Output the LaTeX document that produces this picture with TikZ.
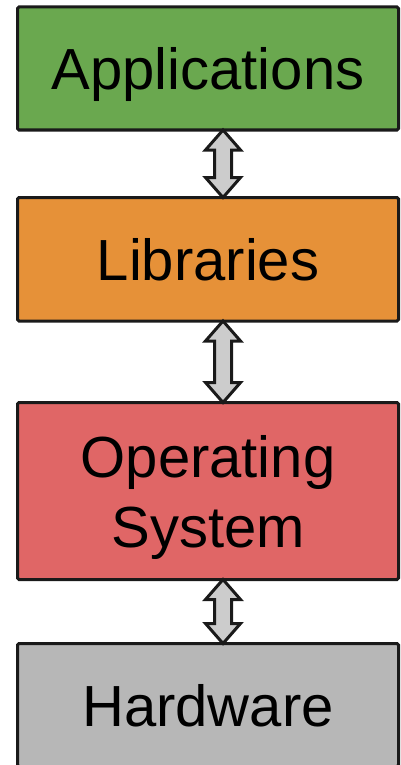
\documentclass[tikz,border=0pt]{standalone}
\usepackage{fontspec}
\setmainfont{Liberation Sans}
\usetikzlibrary{calc}

\definecolor{appgreen}{HTML}{6AA84F}
\definecolor{liborange}{HTML}{E69138}
\definecolor{osred}{HTML}{E06666}
\definecolor{hwgray}{HTML}{B7B7B7}
\definecolor{arrowgray}{HTML}{CCCCCC}
\definecolor{edge}{HTML}{1A1A1A}

\tikzset{
  layer/.style={draw=edge, line width=3pt, rounded corners=1.5pt, outer sep=0pt,
    minimum width=381pt, inner sep=0pt, align=center, text depth=0pt,
    font=\fontsize{58}{70}\selectfont},
  dblarrow/.style={draw=edge, fill=arrowgray, line width=3pt, line join=miter}
}

% double-headed block arrow from the bottom of #1 to the top of #2,
% set 15pt right of the layers' centre line
\newcommand{\linkarrow}[2]{%
  \draw[dblarrow] ($(#1.south)+(15pt,0pt)$) -- ++(17.5pt,-20pt) -- ++(-9pt,0pt)
    -- ($(#2.north)+(23.5pt,20pt)$) -- ++(9pt,0pt) -- ($(#2.north)+(15pt,0pt)$)
    -- ++(-17.5pt,20pt) -- ++(9pt,0pt)
    -- ($(#1.south)+(6.5pt,-20pt)$) -- ++(-9pt,0pt) -- cycle;}

\begin{document}
\begin{tikzpicture}[x=1pt,y=1pt]
  \useasboundingbox (0,0) rectangle (400,-765);

  \node[layer, fill=appgreen,  minimum height=123pt] (app) at (208,-68.5)  {Applications};
  \node[layer, fill=liborange, minimum height=123.5pt] (lib) at (208,-259.25) {Libraries};
  \node[layer, fill=osred,     minimum height=177pt] (os)  at (208,-491)   {Operating\\System};
  \node[layer, fill=hwgray,    minimum height=123pt] (hw)  at (208,-705)   {Hardware};

  \linkarrow{app}{lib}
  \linkarrow{lib}{os}
  \linkarrow{os}{hw}
\end{tikzpicture}
\end{document}
